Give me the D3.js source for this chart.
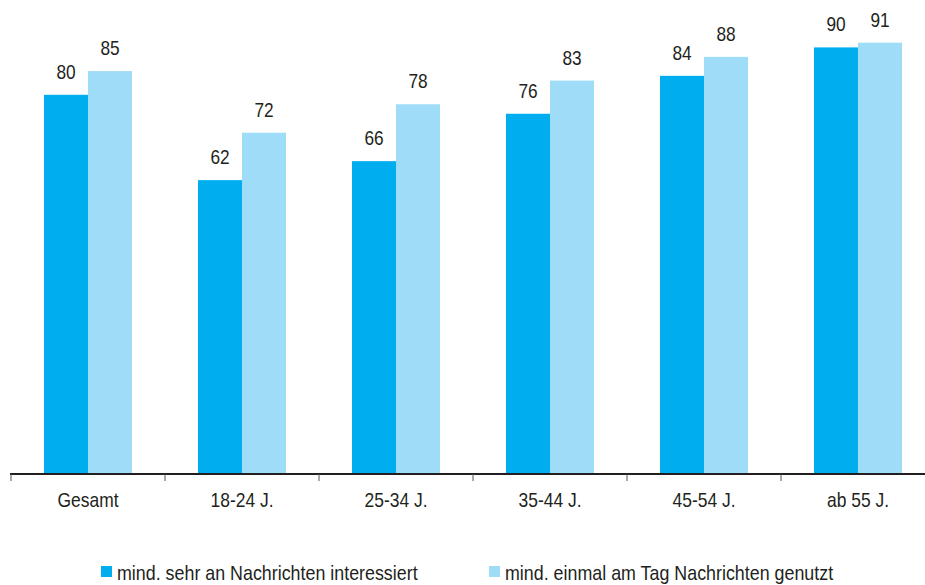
<!DOCTYPE html>
<html><head><meta charset="utf-8">
<script src="https://cdn.jsdelivr.net/npm/d3@7"></script>
<style>
body{margin:0;background:#fff;}
text{font-family:"Liberation Sans Narrow","Arial Narrow","Liberation Sans",sans-serif;fill:#231f20;}
</style></head><body>
<svg id="c" width="925" height="585"></svg>
<script>
const categories = ["Gesamt","18-24 J.","25-34 J.","35-44 J.","45-54 J.","ab 55 J."];
const interessiert = [80,62,66,76,84,90];
const genutzt = [85,72,78,83,88,91];
const seriesNames = ["mind. sehr an Nachrichten interessiert","mind. einmal am Tag Nachrichten genutzt"];
const colors = ["#00aeef","#9fdcf7"];

function condense(sel,k){
  sel.each(function(){
    const l=this.getComputedTextLength();
    this.setAttribute("textLength",(l*k).toFixed(1));
    this.setAttribute("lengthAdjust","spacingAndGlyphs");
  });
}

const svg = d3.select("#c");
const x0 = d3.scaleBand().domain(categories).range([11,935]).paddingInner(0.4286).paddingOuter(0.2143);
const x1 = d3.scaleBand().domain([0,1]).range([0,x0.bandwidth()]);
const y = d3.scaleLinear().domain([0,100]).range([474,0]);

const data = categories.map((c,i)=>({c, vals:[interessiert[i],genutzt[i]]}));
const g = svg.append("g");
const groups = g.selectAll("g.grp").data(data).join("g").attr("transform",d=>`translate(${x0(d.c)},0)`);
groups.selectAll("rect").data(d=>d.vals.map((v,k)=>({v,k}))).join("rect")
  .attr("x",d=>x1(d.k)).attr("width",x1.bandwidth())
  .attr("y",d=>y(d.v)).attr("height",d=>y(0)-y(d.v))
  .attr("fill",d=>colors[d.k]);
groups.selectAll("text.val").data(d=>d.vals.map((v,k)=>({v,k}))).join("text")
  .attr("class","val")
  .attr("x",d=>x1(d.k)+x1.bandwidth()/2).attr("y",d=>y(d.v)-16)
  .attr("text-anchor","middle").style("font-size","21px").text(d=>d.v)
  .call(condense,0.82);

// axis
const step = x0.step();
const tickPos = categories.map((c,i)=>11+i*step).concat([11+categories.length*step]);
svg.append("line").attr("x1",10).attr("x2",925).attr("y1",474).attr("y2",474).attr("stroke","#231f20").attr("stroke-width",2);
svg.selectAll("line.tick").data(tickPos).join("line").attr("class","tick")
  .attr("x1",d=>d).attr("x2",d=>d).attr("y1",474).attr("y2",481).attr("stroke","#555").attr("stroke-width",1);
svg.selectAll("text.cat").data(categories).join("text").attr("class","cat")
  .attr("x",d=>x0(d)+x0.bandwidth()/2).attr("y",507).attr("text-anchor","middle")
  .style("font-size","21px").text(d=>d)
  .call(condense,0.83);

// legend
const legX = [101,489];
seriesNames.forEach((n,i)=>{
  svg.append("rect").attr("x",legX[i]).attr("y",566).attr("width",11).attr("height",11).attr("fill",colors[i]);
  svg.append("text").attr("x",legX[i]+16).attr("y",580).style("font-size","21px").text(n)
    .call(condense,0.85);
});
</script></body></html>
